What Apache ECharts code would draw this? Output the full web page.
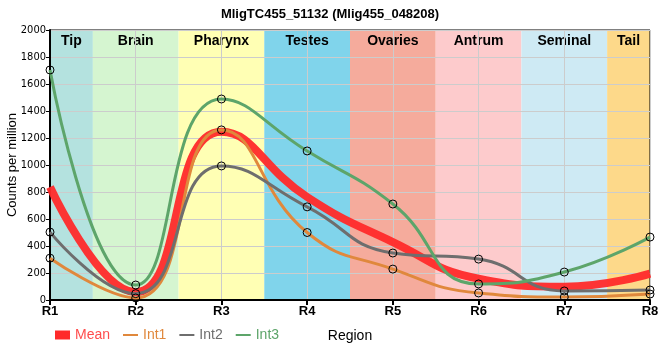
<!DOCTYPE html>
<html><head><meta charset="utf-8">
<script src="https://cdn.jsdelivr.net/npm/echarts@6/dist/echarts.min.js"></script>
<style>html,body{margin:0;padding:0;background:#fff}#c{width:660px;height:360px}</style>
</head><body><div id="c"></div>
<script>
var regions = ['R1','R2','R3','R4','R5','R6','R7','R8'];
var bandNames = ['Tip','Brain','Pharynx','Testes','Ovaries','Antrum','Seminal','Tail'];
var bandColors = ['#b4e2df','#d5f5d0','#ffffb4','#80d4eb','#f5ab9c','#fdcbcc','#ceeaf4','#fdd98a'];
var meanVals = [837, 58, 1247, 763, 429, 158, 99, 195];
var int1Vals = [310, 15, 1260, 500, 229, 52, 22, 44];
var int2Vals = [503, 47, 993, 690, 348, 303, 67, 74];
var int3Vals = [1704, 111, 1489, 1104, 711, 119, 207, 466];
var seriesNames = ['Mean','Int1','Int2','Int3'];
var seriesColors = ['#ff2a2a','#e0883c','#6e6e6e','#5da56a'];
var yTitle = 'Counts per million';

var font = '"Liberation Sans Narrow", "Liberation Sans", Arial, sans-serif';
function pts(arr){ return arr.map(function(v,i){ return [i+1, v]; }); }

var bandData = bandNames.map(function(n,i){
  return [{name:n, xAxis: Math.max(1, i+0.5), itemStyle:{color:bandColors[i]}},
          {xAxis: Math.min(regions.length, i+1.5)}];
});

var symStyle = {color:'rgba(0,0,0,0)', borderColor:'#000', borderWidth:1};
function intSeries(idx, vals){
  return {name:seriesNames[idx], type:'line', smooth:0.5, data:pts(vals), z:3,
    symbol:'circle', symbolSize:8, showSymbol:true,
    lineStyle:{color:seriesColors[idx], width:3}, itemStyle:symStyle};
}

var chart = echarts.init(document.getElementById('c'), null, {renderer:'canvas'});
chart.setOption({
  animation:false,
  backgroundColor:'#fff',
  title:{text:'MligTC455_51132 (Mlig455_048208)', left:'center', top:3,
    textStyle:{fontFamily:font, fontWeight:'bold', fontSize:13, color:'#000'}},
  graphic:[{type:'text', x:12, y:165, rotation:Math.PI/2, silent:true,
    style:{text:yTitle, align:'center', verticalAlign:'middle', fill:'#000',
      font:'13px "Liberation Sans", Arial, sans-serif'}}],
  grid:{left:50, right:10, top:30, bottom:60, containLabel:false, outerBoundsMode:'none',
    show:true, borderColor:'#000', borderWidth:1, backgroundColor:'transparent'},
  legend:{left:50, top:323, itemWidth:15, itemHeight:9, itemGap:13,
    textStyle:{fontFamily:font, fontSize:14},
    data: seriesNames.map(function(n,i){
      return {name:n, icon: i===0 ? 'rect' : 'path://M0,3.5 L15,3.5 L15,5.5 L0,5.5 Z',
        itemStyle:{color:seriesColors[i], borderWidth:0},
        textStyle:{color: i===0 ? '#ff4d4d' : seriesColors[i]}};
    })},
  xAxis:{type:'value', min:1, max:regions.length, interval:1,
    name:'Region', nameLocation:'middle', nameGap:29, nameMoveOverlap:false,
    nameTextStyle:{fontFamily:font, fontSize:14, color:'#000'},
    axisLine:{show:true, lineStyle:{color:'#000', width:2}},
    axisTick:{show:true, length:5, lineStyle:{color:'#000', width:2}},
    axisLabel:{fontFamily:font, fontWeight:'bold', fontSize:13, color:'#000', margin:5,
      formatter:function(v){ return regions[Math.round(v)-1] || ''; }},
    splitLine:{show:true, lineStyle:{color:'#cccccc', width:1}}},
  yAxis:{type:'value', min:0, max:2000, interval:200,
    axisLine:{show:true, lineStyle:{color:'#000', width:2}},
    axisTick:{show:true, length:4, lineStyle:{color:'#000'}},
    axisLabel:{fontFamily:'"DejaVu Sans Condensed", "DejaVu Sans", sans-serif', fontSize:11, color:'#000', margin:4,
      formatter:function(v){ return String(v); }},
    splitLine:{show:true, lineStyle:{color:'#cccccc', width:1}}},
  series:[
    {name:'bands', type:'line', data:[], z:-1, silent:true,
      markArea:{silent:true, z:-1,
        label:{show:true, position:'insideTop', distance:4, color:'#000',
          fontFamily:font, fontWeight:'bold', fontSize:14},
        data:bandData}},
    {name:seriesNames[0], type:'line', smooth:0.5, data:pts(meanVals), z:2,
      showSymbol:false, symbol:'none',
      lineStyle:{color:seriesColors[0], width:8, opacity:0.95}, itemStyle:{color:seriesColors[0]}},
    intSeries(1, int1Vals),
    intSeries(2, int2Vals),
    intSeries(3, int3Vals)
  ]
});
</script></body></html>
